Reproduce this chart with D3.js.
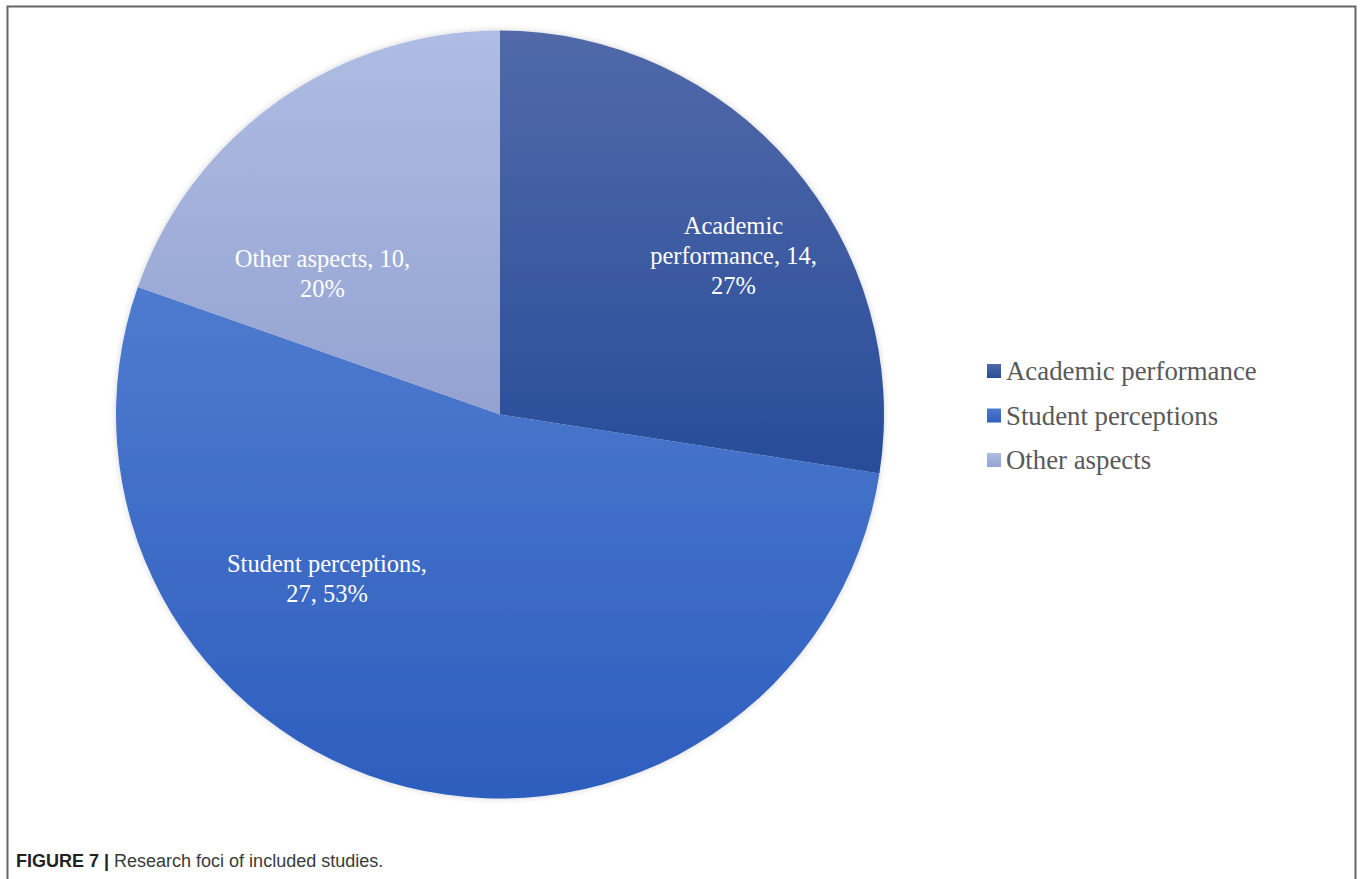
<!DOCTYPE html>
<html>
<head>
<meta charset="utf-8">
<script src="https://cdn.jsdelivr.net/npm/d3@7/dist/d3.min.js"></script>
<style>
  html, body { margin: 0; padding: 0; background: #fff; }
  svg { display: block; }
</style>
</head>
<body>
<svg id="chart" width="1360" height="879"></svg>
<script>
const categories = ["Academic performance", "Student perceptions", "Other aspects"];
const values = [14, 27, 10];
const percentLabels = ["27%", "53%", "20%"];
const sliceLabelLines = [
  ["Academic", "performance, 14,", "27%"],
  ["Student perceptions,", "27, 53%"],
  ["Other aspects, 10,", "20%"]
];
const colorsTop = ["#5169a9", "#4e7bcf", "#afbce3"];
const colorsBottom = ["#284d99", "#2e5ebe", "#93a2d1"];

// label placement relative to each slice (angle shift from the mid-angle in degrees, radius fraction)
const labelPlacement = [
  { shift: 6.4, rf: 0.735 },
  { shift: 32.5, rf: 0.62 },
  { shift: -16.3, rf: 0.59 }
];

const svg = d3.select("#chart");

// frame
svg.append("path")
  .attr("d", "M7.5,879 L7.5,6.5 L1355.5,6.5 L1355.5,879")
  .attr("fill", "none").attr("stroke", "#666").attr("stroke-width", 2);

const defs = svg.append("defs");
categories.forEach((c, i) => {
  const g = defs.append("linearGradient").attr("id", "g" + i)
    .attr("x1", 0).attr("y1", 0).attr("x2", 0).attr("y2", 1);
  g.append("stop").attr("offset", "0%").attr("stop-color", colorsTop[i]);
  g.append("stop").attr("offset", "100%").attr("stop-color", colorsBottom[i]);
});
const f = defs.append("filter").attr("id", "shadow")
  .attr("x", "-10%").attr("y", "-10%").attr("width", "120%").attr("height", "120%");
f.append("feDropShadow").attr("dx", 0).attr("dy", 0).attr("stdDeviation", 3)
  .attr("flood-color", "#000").attr("flood-opacity", 0.18);

const cx = 500, cy = 414.5, R = 384;
const pie = d3.pie().sort(null).value(d => d)(values);
const arc = d3.arc().innerRadius(0).outerRadius(R);

const g = svg.append("g").attr("transform", `translate(${cx},${cy})`);
g.append("g").attr("filter", "url(#shadow)")
  .selectAll("path").data(pie).join("path")
  .attr("d", arc)
  .attr("fill", (d, i) => `url(#g${i})`);

// slice labels
const lineH = 30;
const fontSerif = "'Liberation Serif', 'Times New Roman', serif";
g.selectAll("text.lbl").data(pie).join("text")
  .attr("class", "lbl")
  .attr("font-family", fontSerif)
  .attr("font-size", 24.5)
  .attr("fill", "#fff")
  .attr("text-anchor", "middle")
  .each(function(d, i) {
    const p = labelPlacement[i];
    const a = (d.startAngle + d.endAngle) / 2 + p.shift * Math.PI / 180;
    const r = R * p.rf;
    const x = r * Math.sin(a), y = -r * Math.cos(a);
    const lines = sliceLabelLines[i];
    const t = d3.select(this);
    const y0 = y - (lines.length - 1) * lineH / 2;
    lines.forEach((ln, k) => {
      t.append("tspan").attr("x", x).attr("y", y0 + k * lineH).attr("dy", "0.35em").text(ln);
    });
  });

// legend
const lg = svg.append("g").attr("transform", "translate(987,0)");
const legY = d3.scalePoint().domain(categories).range([371, 460]);
categories.forEach((c, i) => {
  const y = legY(c);
  lg.append("rect").attr("x", 0).attr("y", y - 7).attr("width", 14).attr("height", 14)
    .attr("fill", `url(#g${i})`);
  lg.append("text").attr("x", 19).attr("y", y).attr("dy", "0.35em")
    .attr("font-family", fontSerif).attr("font-size", 26.8).attr("fill", "#595959")
    .text(c);
});

// caption
const cap = svg.append("text").attr("x", 16).attr("y", 867)
  .attr("font-family", "'Liberation Sans', Arial, sans-serif").attr("font-size", 18).attr("fill", "#3a3a3a");
cap.append("tspan").attr("font-weight", "bold").attr("fill", "#222").text("FIGURE 7 | ");
cap.append("tspan").text("Research foci of included studies.");
</script>
</body>
</html>
